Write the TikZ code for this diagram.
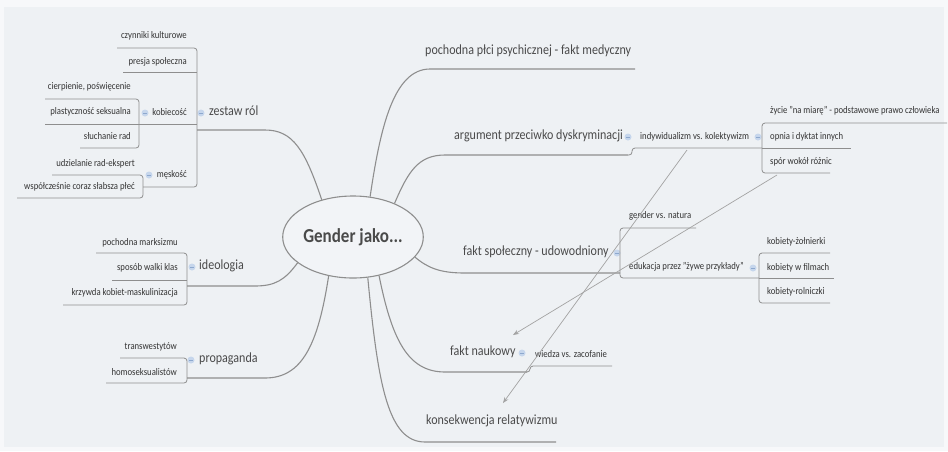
\documentclass[tikz,border=0pt]{standalone}
\usepackage{fontspec}
\setmainfont{Carlito}[FakeStretch=0.86]
\usetikzlibrary{shapes.geometric,arrows.meta}
\definecolor{bgcol}{HTML}{EEF1F4}
\definecolor{framecol}{HTML}{F7F8FA}
\definecolor{linecol}{HTML}{8E8E8E}
\definecolor{relcol}{HTML}{A3A3A3}
\definecolor{maintext}{HTML}{4A4A4A}
\definecolor{subtext}{HTML}{333333}
\definecolor{iconfill}{HTML}{C6D6EC}
\definecolor{iconline}{HTML}{8DA8CE}
\definecolor{ellfill}{HTML}{F2F4F7}
\begin{document}
\begin{tikzpicture}[x=1pt,y=-1pt,
  branch/.style={draw=linecol,line width=1.1pt},
  twig/.style={draw=linecol,line width=0.8pt,rounded corners=3pt},
  rel/.style={draw=relcol,line width=0.7pt,-{Stealth[length=6pt,width=4.5pt]}},
  maintopic/.style={font=\fontsize{14}{16}\selectfont,text=maintext,inner sep=0pt,text height=0.7em,text depth=0.2em},
  subtopic/.style={font=\fontsize{10.1}{12}\selectfont,text=subtext,inner sep=0pt,text height=0.7em,text depth=0.2em},
  fold/.style={circle,minimum size=7pt,inner sep=0pt,fill=iconfill,
    path picture={\draw[iconline,line width=0.6pt] ([xshift=-1.8pt]path picture bounding box.center) -- ([xshift=1.8pt]path picture bounding box.center);}},
  centertopic/.style={ellipse,draw=linecol,line width=1.1pt,fill=ellfill,minimum width=135pt,minimum height=82pt,inner sep=0pt,
    font=\bfseries\fontsize{19.8}{22}\selectfont,text=maintext}
]
\useasboundingbox (0,0) rectangle (948,451);
\fill[framecol] (0,0) rectangle (948,451);
\fill[bgcol] (4,7) rectangle (944,447);

% central topic
\node[centertopic] (g) at (353,237) {Gender jako...};

% ---------- right side main topics ----------
\node[maintopic,anchor=west] (pochodna) at (425,52) {pochodna płci psychicznej - fakt medyczny};
\node[maintopic,anchor=west] (argument) at (454,137) {argument przeciwko dyskryminacji};
\node[fold] (fargument) at (628,137) {};
\node[subtopic,anchor=west] (indyw) at (640,137) {indywidualizm vs. kolektywizm};
\node[fold] (findyw) at (758,137) {};
\node[subtopic,anchor=west] (zycie) at (770,111) {życie "na miarę" - podstawowe prawo człowieka};
\node[subtopic,anchor=west] (opnia) at (770,137) {opnia i dyktat innych};
\node[subtopic,anchor=west] (spor) at (770,162) {spór wokół różnic};

\node[maintopic,anchor=west] (spoleczny) at (463,253) {fakt społeczny - udowodniony};
\node[fold] (fspoleczny) at (617,253) {};
\node[subtopic,anchor=west] (natura) at (629,216) {gender vs. natura};
\node[subtopic,anchor=west] (edukacja) at (629,267) {edukacja przez "żywe przykłady"};
\node[fold] (fedukacja) at (753,268) {};
\node[subtopic,anchor=west] (zolnierki) at (767,242) {kobiety-żołnierki};
\node[subtopic,anchor=west] (filmach) at (767,268) {kobiety w filmach};
\node[subtopic,anchor=west] (rolniczki) at (767,292) {kobiety-rolniczki};

\node[maintopic,anchor=west] (naukowy) at (450,353) {fakt naukowy};
\node[fold] (fnaukowy) at (522,353) {};
\node[subtopic,anchor=west] (wiedza) at (535,355) {wiedza vs. zacofanie};

\node[maintopic,anchor=west] (konsekw) at (426,422) {konsekwencja relatywizmu};

% ---------- left side main topics ----------
\node[maintopic,anchor=west] (zestaw) at (209,113) {zestaw ról};
\node[fold] (fzestaw) at (201,113) {};
\node[subtopic,anchor=east] (czynniki) at (187,36) {czynniki kulturowe};
\node[subtopic,anchor=east] (presja) at (187,62) {presja społeczna};
\node[subtopic,anchor=east] (kobiecosc) at (187,113) {kobiecość};
\node[fold] (fkobiecosc) at (145,113) {};
\node[subtopic,anchor=east] (cierpienie) at (131,87) {cierpienie, poświęcenie};
\node[subtopic,anchor=east] (plastycznosc) at (131,112) {plastyczność seksualna};
\node[subtopic,anchor=east] (sluchanie) at (131,137) {słuchanie rad};
\node[subtopic,anchor=east] (meskosc) at (187,175) {męskość};
\node[fold] (fmeskosc) at (149,175) {};
\node[subtopic,anchor=east] (udzielanie) at (135,164) {udzielanie rad-ekspert};
\node[subtopic,anchor=east] (wspolczesnie) at (135,187) {współcześnie coraz słabsza płeć};

\node[maintopic,anchor=west] (ideologia) at (199,267) {ideologia};
\node[fold] (fideologia) at (192,267) {};
\node[subtopic,anchor=east] (marksizm) at (178,243) {pochodna marksizmu};
\node[subtopic,anchor=east] (walki) at (178,268) {sposób walki klas};
\node[subtopic,anchor=east] (krzywda) at (178,293) {krzywda kobiet-maskulinizacja};

\node[maintopic,anchor=west] (propaganda) at (199,360) {propaganda};
\node[fold] (fpropaganda) at (191,360) {};
\node[subtopic,anchor=east] (transw) at (177,347) {transwestytów};
\node[subtopic,anchor=east] (homo) at (177,373) {homoseksualistów};

% ---------- main branches ----------
\draw[branch] (g.67) .. controls (380,130) and (393,69) .. (430,69) -- (635,69);
\draw[branch] (g.39) .. controls (408,172) and (418,155) .. (445,155) -- (628,155);
\draw[twig] (628,155) -- (632,155) -- (632,148) -- (762,148);
\draw[branch] (g.-18) .. controls (428,268) and (440,273) .. (465,273) -- (620,273);
\draw[branch] (g.-56) .. controls (392,340) and (408,372) .. (445,372) -- (527,372);
\draw[twig] (525,372) -- (530,372) -- (530,366) -- (612,366);
\draw[branch] (g.-70) .. controls (378,385) and (388,442) .. (425,442) -- (556,442);
\draw[branch] (g.130) .. controls (305,150) and (293,130) .. (265,130) -- (197,130);
\draw[branch] (g.-155) .. controls (285,280) and (275,286) .. (255,286) -- (187,286);
\draw[branch] (g.-122) .. controls (318,345) and (302,378) .. (265,378) -- (187,378);

% ---------- brackets, right ----------
\draw[twig] (947,123) -- (762,123) -- (762,173) -- (830,173);
\draw[twig] (762,148) -- (851,148);
\draw[twig] (696,228) -- (620,228) -- (620,278) -- (759,278);
\draw[twig] (830,253) -- (759,253) -- (759,303) -- (830,303);
\draw[twig] (759,278) -- (834,278);

% ---------- brackets, left ----------
\draw[twig] (117,48) -- (197,48) -- (197,187) -- (143,187);
\draw[twig] (123,72) -- (197,72);
\draw[twig] (45,124) -- (197,124);
\draw[twig] (45,99) -- (139,99) -- (139,148) -- (80,148);
\draw[twig] (52,175) -- (143,175) -- (143,198) -- (17,198);
\draw[twig] (96,253) -- (187,253) -- (187,305) -- (63,305);
\draw[twig] (112,280) -- (187,280);
\draw[twig] (120,358) -- (187,358) -- (187,383) -- (106,383);

% ---------- relationships ----------
\coordinate (relAs) at (687,150);
\coordinate (relAe) at (503,403);
\coordinate (relBs) at (777,175);
\coordinate (relBe) at (513,335);
\draw[rel] (relAs) -- (relAe);
\draw[rel] (relBs) -- (relBe);
\end{tikzpicture}
\end{document}
